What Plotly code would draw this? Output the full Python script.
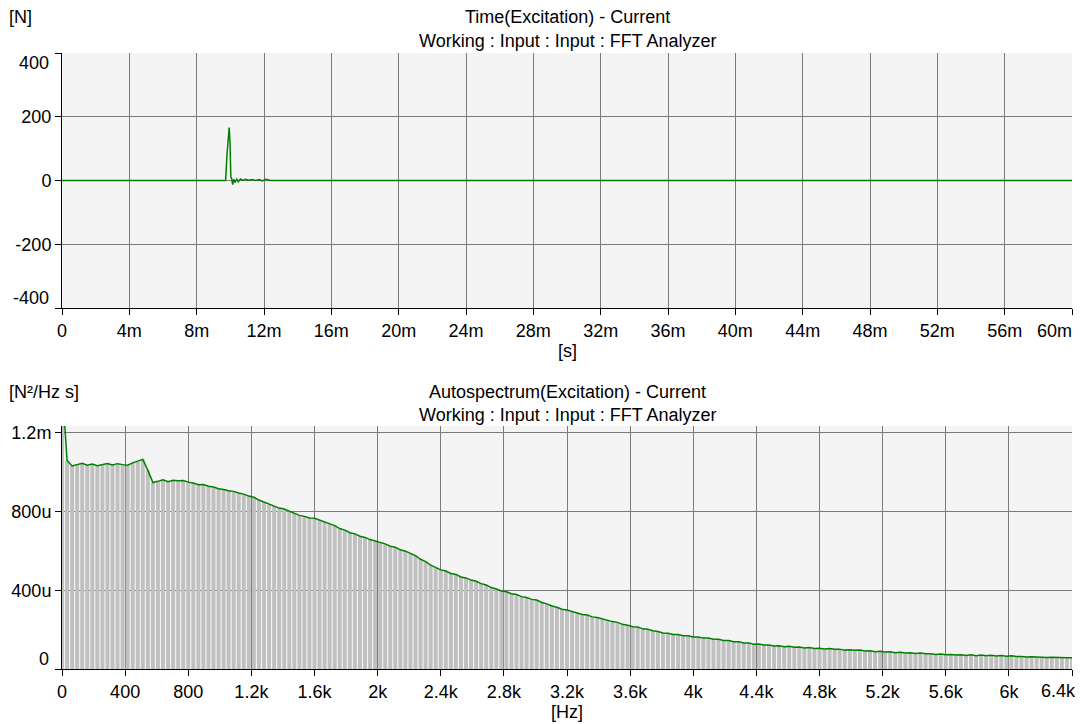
import plotly.graph_objects as go

# 시간 신호 (impulse hammer) - 값은 그림에서 읽음
time_s = [0, 0.00972, 0.00980, 0.00988, 0.00993, 0.00998, 0.01003, 0.01008, 0.01014,
          0.01020, 0.01028, 0.01038, 0.01048, 0.01060, 0.01075, 0.01090, 0.01110,
          0.01130, 0.01150, 0.01170, 0.01190, 0.01210, 0.01228, 0.01240, 0.060]
force_n = [0, 0, 80, 158, 166, 120, 12, 5, -13,
           4, -6, 4, -4, 5, 0, 4, 1,
           3, 0, 3, -1, 4, 2, 0, 0]

# 오토스펙트럼 (32 Hz 간격, 단위 u = 1e-6)
psd_u = [
    1450, 1060, 1032, 1040, 1046, 1036, 1042, 1034, 1041, 1045,
    1037, 1044, 1039, 1036, 1048, 1056, 1066, 1010, 948, 954,
    962, 952, 960, 957, 958, 950, 946, 937, 938, 929,
    925, 916, 913, 906, 903, 895, 889, 879, 873, 859,
    849, 835, 829, 818, 813, 802, 793, 781, 776, 768,
    766, 757, 749, 736, 729, 714, 706, 693, 687, 675,
    669, 658, 651, 641, 636, 624, 619, 606, 599, 588,
    576, 558, 546, 528, 517, 504, 498, 486, 481, 468,
    463, 452, 446, 434, 427, 414, 407, 397, 393, 383,
    379, 368, 363, 354, 351, 338, 331, 320, 314, 304,
    300, 291, 286, 277, 274, 265, 262, 254, 250, 241,
    237, 227, 223, 215, 213, 204, 202, 194, 191, 183,
    182, 175, 175, 169, 169, 163, 163, 157, 157, 151,
    151, 145, 145, 139, 138, 132, 132, 126, 127, 122,
    122, 117, 118, 113, 115, 110, 112, 107, 109, 104,
    106, 102, 104, 100, 101, 96, 98, 95, 96, 91,
    93, 88, 90, 86, 88, 83, 85, 81, 83, 79,
    81, 77, 78, 74, 76, 72, 74, 71, 73, 69,
    72, 68, 71, 67, 70, 66, 69, 65, 67, 63,
    64, 61, 62, 60, 61, 59, 60, 58, 59, 57,
    57,
]
psd = [v * 1e-6 for v in psd_u]

# 축 눈금
t_tickvals = [0, 0.004, 0.008, 0.012, 0.016, 0.020, 0.024, 0.028, 0.032,
              0.036, 0.040, 0.044, 0.048, 0.052, 0.056, 0.060]
t_ticktext = ["0", "4m", "8m", "12m", "16m", "20m", "24m", "28m", "32m",
              "36m", "40m", "44m", "48m", "52m", "56m", "60m"]
f_tickvals = [0, 400, 800, 1200, 1600, 2000, 2400, 2800, 3200,
              3600, 4000, 4400, 4800, 5200, 5600, 6000, 6400]
f_ticktext = ["0", "400", "800", "1.2k", "1.6k", "2k", "2.4k", "2.8k", "3.2k",
              "3.6k", "4k", "4.4k", "4.8k", "5.2k", "5.6k", "6k", "6.4k"]
force_tickvals = [-400, -200, 0, 200, 400]
force_ticktext = ["-400", "-200", "0", "200", "400"]
psd_tickvals = [0, 400e-6, 800e-6, 1.2e-3]
psd_ticktext = ["0", "400u", "800u", "1.2m"]

# 페이지 body 여백(8px) 보정
OFF = 8
W, H = 1083 - OFF, 724 - OFF
GREEN = "#008000"
FONT = dict(family="Liberation Sans, Arial, sans-serif", size=18, color="black")


def px_x(p):
    return (p - OFF) / W


def px_y(p):
    return 1 - (p - OFF) / H


def inner_labels(labels, lo_idx, hi_idx):
    # 끝 라벨은 축 안쪽으로 따로 그림 -> 기본 라벨에서는 비움
    out = list(labels)
    out[lo_idx] = ""
    out[hi_idx] = ""
    return out


fig = go.Figure()

fig.add_trace(go.Scatter(
    x=time_s, y=force_n, mode="lines",
    line=dict(color=GREEN, width=1.5),
    xaxis="x", yaxis="y", showlegend=False
))

fig.add_trace(go.Bar(
    x0=0, dx=32, y=psd,
    marker=dict(color="#c0c0c0", line=dict(width=0)),
    xaxis="x2", yaxis="y2", showlegend=False
))
fig.add_trace(go.Scatter(
    x0=0, dx=32, y=psd, mode="lines",
    line=dict(color=GREEN, width=1.5),
    xaxis="x2", yaxis="y2", showlegend=False
))

axis_common = dict(
    showline=True, linecolor="black", linewidth=1,
    ticks="outside", ticklen=6, tickcolor="black",
    showgrid=True, gridcolor="#7a7a7a", gridwidth=1,
    zeroline=False, tickfont=FONT, mirror=False,
    automargin=False,
)

fig.update_layout(
    width=W, height=H,
    margin=dict(l=0, r=0, t=0, b=0),
    paper_bgcolor="white",
    plot_bgcolor="#f4f4f4",
    bargap=0.22,
    font=FONT,
    xaxis=dict(domain=[px_x(62), px_x(1072)], anchor="y", range=[0, 0.06],
               tickvals=t_tickvals, ticktext=t_ticktext[:-1] + [""], **axis_common),
    yaxis=dict(domain=[px_y(308), px_y(53)], anchor="x", range=[-400, 400],
               tickvals=force_tickvals, ticktext=inner_labels(force_ticktext, 0, -1),
               **axis_common),
    xaxis2=dict(domain=[px_x(62), px_x(1072)], anchor="y2", range=[0, 6400],
                tickvals=f_tickvals, ticktext=f_ticktext[:-1] + [""], **axis_common),
    yaxis2=dict(domain=[px_y(669), px_y(426)], anchor="x2", range=[0, 1.2354e-3],
                tickvals=psd_tickvals, ticktext=[""] + psd_ticktext[1:], **axis_common),
)

texts = [
    ("Time(Excitation) - Current", 567, 17, "center"),
    ("Working : Input : Input : FFT Analyzer", 567, 41, "center"),
    ("[N]", 7, 17, "left"),
    ("[s]", 567, 351, "center"),
    ("Autospectrum(Excitation) - Current", 567, 392, "center"),
    ("Working : Input : Input : FFT Analyzer", 567, 415, "center"),
    ("[N²/Hz s]", 7, 392, "left"),
    ("[Hz]", 567, 712, "center"),
]
for txt, x, y, anchor in texts:
    fig.add_annotation(
        text=txt, x=px_x(x), y=px_y(y), xref="paper", yref="paper",
        xanchor=anchor, yanchor="middle", showarrow=False, font=FONT
    )

# 끝 눈금 라벨 (축 안쪽으로 밀림)
end_labels = [
    # text, xref, x, yref, y, xanchor, yanchor, xshift, yshift
    (force_ticktext[-1], "paper", px_x(62), "y", force_tickvals[-1], "right", "middle", -11, -10),
    (force_ticktext[0], "paper", px_x(62), "y", force_tickvals[0], "right", "middle", -11, 10),
    (psd_ticktext[0], "paper", px_x(62), "y2", psd_tickvals[0], "right", "middle", -11, 10),
    (t_ticktext[-1], "x", t_tickvals[-1], "paper", px_y(331), "right", "middle", 2, 0),
    (f_ticktext[-1], "x2", f_tickvals[-1], "paper", px_y(691), "right", "middle", 6, 0),
]
for txt, xref, x, yref, y, xa, ya, xs, ys in end_labels:
    fig.add_annotation(
        text=txt, x=x, y=y, xref=xref, yref=yref, xanchor=xa, yanchor=ya,
        xshift=xs, yshift=ys, showarrow=False, font=FONT
    )

fig.write_html("out.html")
